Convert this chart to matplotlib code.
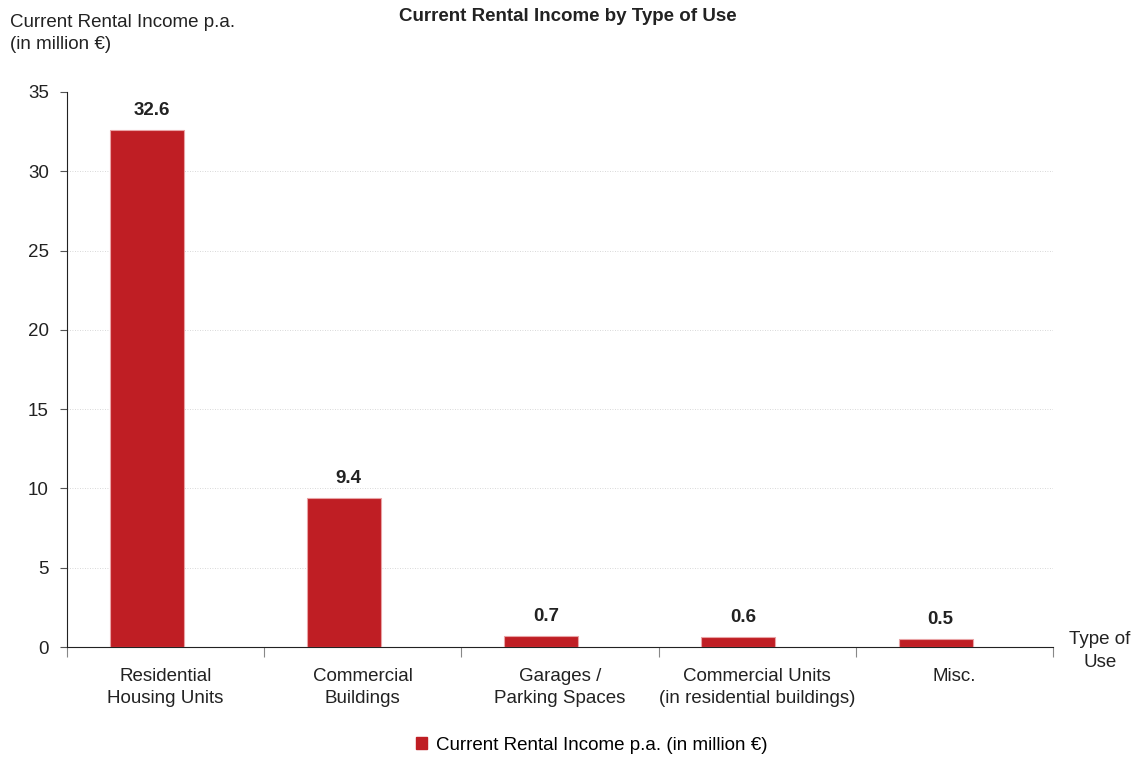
import matplotlib.pyplot as plt
from matplotlib.patches import Patch

categories = ['Residential\nHousing Units', 'Commercial\nBuildings', 'Garages /\nParking Spaces',
              'Commercial Units\n(in residential buildings)', 'Misc.']
values = [32.6, 9.4, 0.7, 0.6, 0.5]
labels = ['32.6', '9.4', '0.7', '0.6', '0.5']
yticks = [0, 5, 10, 15, 20, 25, 30, 35]

red = '#BF1E24'
plt.rcParams['font.family'] = ['Liberation Sans', 'DejaVu Sans']

fig = plt.figure(figsize=(11.36, 7.57), dpi=100)
ax = fig.add_axes([0.0590, 0.1453, 0.8680, 0.7332])

x = list(range(len(categories)))
offset = -0.096  # bars sit a little left of the category centre
bx = [i + offset for i in x]
ax.bar(bx, values, width=0.375, color=red, edgecolor='#e9a3a5', linewidth=0.8, zorder=3)
for xi, v, t in zip(bx, values, labels):
    ax.text(xi + 0.025, v + 0.7, t, ha='center', va='bottom', fontsize=13.5,
            fontweight='bold', color='#222222')

ax.set_xlim(-0.5, len(categories) - 0.5)
ax.set_ylim(0, 35)
ax.set_yticks(yticks)
ax.tick_params(axis='y', labelsize=13.5, length=5, color='#555555', pad=8, labelcolor='#222222')
for y in yticks[1:-1]:
    ax.axhline(y, color='#cccccc', linestyle=(0, (1, 2)), linewidth=0.6, zorder=1)

ax.set_xticks([i - 0.5 for i in range(len(categories) + 1)])
ax.set_xticklabels([])
ax.set_xticks(x, minor=True)
ax.set_xticklabels(categories, minor=True, fontsize=13.5, color='#222222')
for lbl in ax.get_xticklabels(minor=True):
    lbl.set_linespacing(1.4)
ax.tick_params(axis='x', which='major', length=7, color='#888888')
ax.tick_params(axis='x', which='minor', length=0, pad=15)

for s in ['top', 'right']:
    ax.spines[s].set_visible(False)
ax.spines['left'].set_color('#222222')
ax.spines['bottom'].set_color('#222222')

fig.text(0.5, 0.99, 'Current Rental Income by Type of Use', ha='center', va='top',
         fontsize=13.5, fontweight='bold', color='#222222')
fig.text(0.009, 0.982, 'Current Rental Income p.a.\n(in million €)', ha='left', va='top',
         fontsize=13.5, color='#222222', linespacing=1.45)
fig.text(0.968, 0.14, 'Type of\nUse', ha='center', va='center', fontsize=13.5,
         color='#222222', linespacing=1.4)

fig.legend(handles=[Patch(color=red, label='Current Rental Income p.a. (in million €)')],
           loc='lower center', bbox_to_anchor=(0.521, -0.018), frameon=False, fontsize=13.5,
           handlelength=0.6, handleheight=0.6, handletextpad=0.5)

fig.savefig('out.png', dpi=100)
